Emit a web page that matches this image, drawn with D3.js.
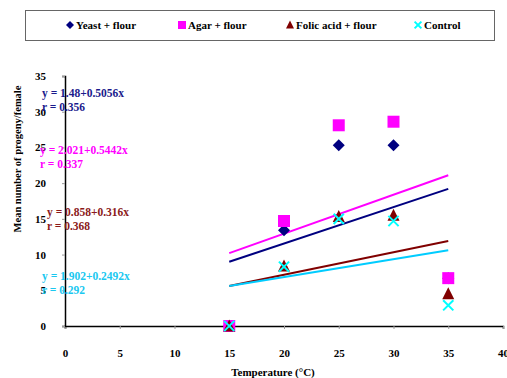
<!DOCTYPE html>
<html>
<head>
<meta charset="utf-8">
<script src="https://cdn.jsdelivr.net/npm/d3@7"></script>
<style>
  body { margin: 0; background: #fff; }
</style>
</head>
<body>
<div id="chart"></div>
<script>
// chart values
var temps = [15, 20, 25, 30, 35];
var yeast = [0, 13.4, 25.3, 25.3, 6.7];
var agar = [0, 14.7, 28.1, 28.6, 6.7];
var folic = [0, 8.4, 15.3, 15.5, 4.5];
var control = [0, 8.3, 15.0, 14.7, 2.9];

// trendline values at 15 and 35 degrees
var trendX = [15, 35];
var yeastTrend = [9.0, 19.2];
var agarTrend = [10.2, 21.1];
var folicTrend = [5.6, 11.9];
var controlTrend = [5.6, 10.6];

var seriesNames = ['Yeast + flour', 'Agar + flour', 'Folic acid + flour', 'Control'];
var seriesColors = ['#000080', '#ff00ff', '#800000', '#00ffff'];
var lineColors = ['#000080', '#ff00ff', '#800000', '#00ccff'];
var equations = ['y = 1.48+0.5056x', 'y =  2.021+0.5442x', 'y = 0.858+0.316x', 'y = 1.902+0.2492x'];
var rValues = ['r = 0.356', 'r = 0.337', 'r = 0.368', 'r = 0.292'];
var eqColors = ['#1a1a8c', '#ff00ff', '#8b1a1a', '#1ac8f0'];

var xTicks = [0, 5, 10, 15, 20, 25, 30, 35, 40];
var yTicks = [0, 5, 10, 15, 20, 25, 30, 35];

var width = 507,
  height = 378;

var serif = '"Liberation Serif", "Times New Roman", Times, serif';

var svg = d3.select('#chart')
  .append('svg')
  .attr('width', width)
  .attr('height', height);

var x = d3.scaleLinear().domain([0, 40]).range([65, 503]);
var y = d3.scaleLinear().domain([0, 35]).range([326, 76]);

// legend box
svg.append('rect')
  .attr('x', 25.5).attr('y', 10.5)
  .attr('width', 469).attr('height', 30)
  .attr('fill', 'none')
  .attr('stroke', '#666')
  .attr('stroke-width', 1);

var legendX = [70, 182, 290, 418];

// marker shapes, r is half the marker size
function drawSymbol(g, i, cx, cy, r) {
  var d;
  if (i === 0) {
    d = 'M' + cx + ',' + (cy - r) + 'L' + (cx + r) + ',' + cy + 'L' + cx + ',' + (cy + r) + 'L' + (cx - r) + ',' + cy + 'Z';
  } else if (i === 1) {
    d = 'M' + (cx - r) + ',' + (cy - r) + 'h' + 2 * r + 'v' + 2 * r + 'h' + (-2 * r) + 'Z';
  } else if (i === 2) {
    d = 'M' + cx + ',' + (cy - r * 1.1) + 'L' + (cx + r) + ',' + (cy + r * 0.9) + 'L' + (cx - r) + ',' + (cy + r * 0.9) + 'Z';
  }
  if (i === 3) {
    var s = r * 0.85;
    g.append('path')
      .attr('d', 'M' + (cx - s) + ',' + (cy - s) + 'L' + (cx + s) + ',' + (cy + s) +
        'M' + (cx - s) + ',' + (cy + s) + 'L' + (cx + s) + ',' + (cy - s))
      .attr('stroke', seriesColors[3])
      .attr('stroke-width', 2)
      .attr('fill', 'none');
  } else {
    g.append('path')
      .attr('d', d)
      .attr('fill', seriesColors[i]);
  }
}

seriesNames.forEach(function(name, i) {
  var g = svg.append('g');
  drawSymbol(g, i, legendX[i], 25, 4);
  g.append('text')
    .attr('x', legendX[i] + 6)
    .attr('y', 29)
    .attr('font-size', 11)
    .text(name);
});

// axes
var xAxis = svg.append('g')
  .attr('transform', 'translate(0,' + y(0) + ')')
  .call(d3.axisBottom(x).tickValues(xTicks).tickSize(3).tickPadding(20));
xAxis.select('.domain').attr('stroke', '#000').attr('stroke-width', 1.5);
xAxis.selectAll('.tick line').attr('stroke', '#999');
xAxis.selectAll('text').attr('font-size', 11);

var yAxis = svg.append('g')
  .attr('transform', 'translate(' + x(0) + ',0)')
  .call(d3.axisLeft(y).tickValues(yTicks).tickSize(3).tickPadding(16));
yAxis.select('.domain').attr('stroke', '#000').attr('stroke-width', 1.5);
yAxis.selectAll('.tick line').attr('stroke', '#999');
yAxis.selectAll('text').attr('font-size', 11);

// axis titles
svg.append('text')
  .attr('x', 273).attr('y', 376)
  .attr('text-anchor', 'middle')
  .attr('font-size', 11)
  .text('Temperature (°C)');

svg.append('text')
  .attr('transform', 'translate(21,159) rotate(-90)')
  .attr('text-anchor', 'middle')
  .attr('font-size', 10.5)
  .text('Mean number of progeny/female');

// trendlines
var trends = [yeastTrend, agarTrend, folicTrend, controlTrend];
var line = d3.line()
  .x(function(d) { return x(d[0]); })
  .y(function(d) { return y(d[1]); });

trends.forEach(function(t, i) {
  svg.append('path')
    .datum(trendX.map(function(tx, j) { return [tx, t[j]]; }))
    .attr('d', line)
    .attr('fill', 'none')
    .attr('stroke', lineColors[i])
    .attr('stroke-width', 2);
});

// points
var allSeries = [yeast, agar, folic, control];
allSeries.forEach(function(vals, i) {
  var g = svg.append('g');
  vals.forEach(function(v, j) {
    drawSymbol(g, i, x(temps[j]), y(v), 6);
  });
});

// equations
var eqY = [93, 150, 212, 276];
var eqX = [42, 40, 47, 42];
equations.forEach(function(eq, i) {
  svg.append('text')
    .attr('x', eqX[i]).attr('y', eqY[i] + 4)
    .attr('font-size', 11.5)
    .attr('fill', eqColors[i])
    .text(eq);
  svg.append('text')
    .attr('x', eqX[i]).attr('y', eqY[i] + 18)
    .attr('font-size', 11.5)
    .attr('fill', eqColors[i])
    .text(rValues[i]);
});

svg.selectAll('text')
  .style('font-family', serif)
  .style('font-weight', 'bold');
</script>
</body>
</html>
